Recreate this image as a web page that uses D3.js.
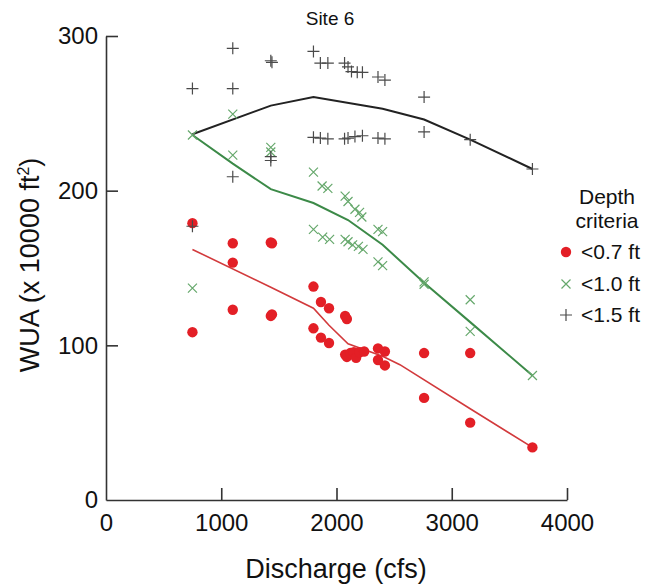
<!DOCTYPE html>
<html>
<head>
<meta charset="utf-8">
<script src="https://cdn.jsdelivr.net/npm/d3@7"></script>
<style>
  body { margin: 0; background: #fff; }
  text { font-family: "Liberation Sans", Arial, sans-serif; fill: #111; }
</style>
</head>
<body>
<div class="chart-container"></div>
<script>
// values: [discharge (cfs), WUA (x 10000 ft2)]
const depth07 = [
    [750, 179], [750, 108.5], [1100, 166], [1100, 153.5], [1100, 123],
    [1430, 166.5], [1440, 166], [1430, 119], [1440, 120],
    [1800, 138], [1800, 111], [1865, 128], [1865, 105], [1935, 124], [1935, 101.5],
    [2075, 119], [2090, 117], [2075, 94], [2090, 92.5], [2120, 95], [2150, 95.5],
    [2170, 92], [2200, 95.5], [2240, 96], [2360, 98], [2360, 90.5], [2420, 96], [2420, 87],
    [2760, 95], [2760, 66], [3160, 95], [3160, 50], [3700, 34]
];
const depth10 = [
    [750, 236], [750, 137], [1100, 249.5], [1100, 223], [1430, 228], [1430, 225],
    [1800, 212], [1800, 175], [1875, 203], [1880, 170], [1925, 201.5], [1940, 168.5],
    [2075, 196.5], [2075, 168.5], [2100, 193], [2100, 167], [2140, 165], [2160, 188],
    [2190, 164], [2200, 186], [2220, 183], [2230, 162],
    [2360, 175], [2360, 154], [2400, 173.5], [2400, 151.5],
    [2760, 141], [2760, 139.5], [3160, 129.5], [3160, 109], [3700, 80.5]
];
const depth15 = [
    [750, 266], [750, 177], [1100, 292], [1100, 266], [1100, 209],
    [1430, 284], [1440, 283], [1430, 222], [1430, 219.5],
    [1800, 290], [1800, 234.5], [1860, 282.5], [1860, 234], [1925, 282.5], [1925, 233.5],
    [2070, 282.5], [2070, 233.5], [2100, 280], [2100, 234], [2130, 277], [2160, 235],
    [2180, 276.5], [2225, 276.5], [2225, 235.5], [2360, 273.5], [2360, 234],
    [2420, 271.5], [2420, 233.5], [2760, 260.5], [2760, 238], [3160, 233], [3700, 214]
];
const trend07 = [[750, 162], [1430, 137.5], [1800, 124], [1935, 113], [2100, 101], [2400, 93], [2550, 87.5], [3160, 59], [3700, 34]];
const trend10 = [[750, 236], [1100, 217.5], [1430, 201], [1800, 192], [2100, 181], [2400, 165], [2760, 140.5], [3160, 115], [3700, 80.5]];
const trend15 = [[750, 236.5], [1430, 255], [1800, 260.5], [2400, 253], [2760, 246], [3160, 233], [3700, 214]];
const xTicks = [0, 1000, 2000, 3000, 4000];
const yTicks = [0, 100, 200, 300];
const legendLabels = ["<0.7 ft", "<1.0 ft", "<1.5 ft"];

const width = 667, height = 588;
const colRed = "#e31f26", colGreen = "#66a86c", colPlus = "#4a4a4a";

const svg = d3.select(".chart-container")
    .append("svg")
    .attr("width", width)
    .attr("height", height);

const xScale = d3.scaleLinear().domain([0, 4000]).range([106, 567]);
const yScale = d3.scaleLinear().domain([0, 300]).range([500, 36]);

const xAxis = d3.axisBottom(xScale)
    .tickValues(xTicks)
    .tickSizeInner(-12)
    .tickSizeOuter(0)
    .tickPadding(14)
    .tickFormat(d3.format("d"));

const yAxis = d3.axisLeft(yScale)
    .tickValues(yTicks)
    .tickSizeInner(-12)
    .tickSizeOuter(0)
    .tickPadding(8)
    .tickFormat(d3.format("d"));

const gx = svg.append("g")
    .attr("transform", `translate(0, ${yScale(0)})`)
    .call(xAxis);
gx.selectAll("text").attr("font-size", 24);
gx.selectAll("line, path").attr("stroke", "#333").attr("stroke-width", 1.6);

const gy = svg.append("g")
    .attr("transform", `translate(${xScale(0)}, 0)`)
    .call(yAxis);
gy.selectAll("text").attr("font-size", 24);
gy.selectAll("line, path").attr("stroke", "#333").attr("stroke-width", 1.6);
gy.selectAll(".tick").filter(d => d === 0).select("line").remove();
gx.selectAll(".tick").filter(d => d === 0).select("line").remove();

// trend lines
const line = d3.line().x(d => xScale(d[0])).y(d => yScale(d[1]));

svg.append("path").datum(trend15).attr("d", line)
    .attr("fill", "none").attr("stroke", "#222").attr("stroke-width", 2);
svg.append("path").datum(trend10).attr("d", line)
    .attr("fill", "none").attr("stroke", "#3c8a48").attr("stroke-width", 2);
svg.append("path").datum(trend07).attr("d", line)
    .attr("fill", "none").attr("stroke", "#d23a3c").attr("stroke-width", 1.6);

// markers
const crossPath = s => `M${-s},${-s}L${s},${s}M${-s},${s}L${s},${-s}`;
const plusPath = s => `M${-s},0L${s},0M0,${-s}L0,${s}`;

svg.append("g").selectAll("circle")
    .data(depth07)
    .join("circle")
    .attr("cx", d => xScale(d[0]))
    .attr("cy", d => yScale(d[1]))
    .attr("r", 5.2)
    .attr("fill", colRed);

svg.append("g").selectAll("path")
    .data(depth10)
    .join("path")
    .attr("transform", d => `translate(${xScale(d[0])}, ${yScale(d[1])})`)
    .attr("d", crossPath(4.5))
    .attr("stroke", colGreen)
    .attr("stroke-width", 1.2)
    .attr("fill", "none");

svg.append("g").selectAll("path")
    .data(depth15)
    .join("path")
    .attr("transform", d => `translate(${xScale(d[0])}, ${yScale(d[1])})`)
    .attr("d", plusPath(6))
    .attr("stroke", colPlus)
    .attr("stroke-width", 1.2)
    .attr("fill", "none");

// titles
svg.append("text")
    .attr("x", 330).attr("y", 25)
    .attr("text-anchor", "middle")
    .attr("font-size", 19)
    .text("Site 6");

svg.append("text")
    .attr("x", 336).attr("y", 578)
    .attr("text-anchor", "middle")
    .attr("font-size", 27)
    .text("Discharge (cfs)");

const yTitle = svg.append("text")
    .attr("transform", `translate(39, ${yScale(152)}) rotate(-90)`)
    .attr("text-anchor", "middle")
    .attr("font-size", 27);
yTitle.append("tspan").text("WUA (x 10000 ft");
yTitle.append("tspan").attr("font-size", 16).attr("dy", "-0.6em").text("2");
yTitle.append("tspan").attr("dy", "0.36em").text(")");

// legend
const legend = svg.append("g").attr("transform", "translate(566, 0)");
legend.append("text").attr("x", 41).attr("y", 204).attr("text-anchor", "middle")
    .attr("font-size", 21).text("Depth");
legend.append("text").attr("x", 41).attr("y", 228).attr("text-anchor", "middle")
    .attr("font-size", 21).text("criteria");

const legendY = [252, 284, 315];
legend.append("circle").attr("cx", 0).attr("cy", legendY[0]).attr("r", 5.2).attr("fill", colRed);
legend.append("path").attr("transform", `translate(0, ${legendY[1]})`).attr("d", crossPath(4.5))
    .attr("stroke", colGreen).attr("stroke-width", 1.2);
legend.append("path").attr("transform", `translate(0, ${legendY[2]})`).attr("d", plusPath(6))
    .attr("stroke", colPlus).attr("stroke-width", 1.2);
legend.selectAll(".lab")
    .data(legendLabels)
    .join("text")
    .attr("class", "lab")
    .attr("x", 15)
    .attr("y", (d, i) => legendY[i] + 7)
    .attr("font-size", 21)
    .text(d => d);
</script>
</body>
</html>
